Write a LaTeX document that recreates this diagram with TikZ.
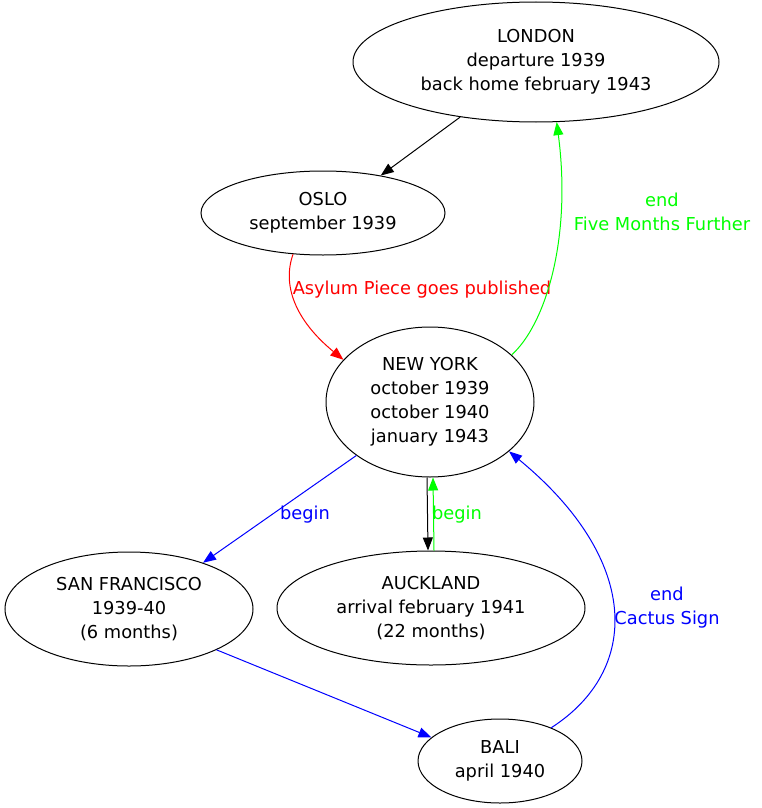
\documentclass[tikz,border=0pt]{standalone}
\usepackage{fontspec}
\setmainfont{DejaVu Sans}
\usetikzlibrary{shapes.geometric,arrows.meta}
\begin{document}
\begin{tikzpicture}[x=1pt,y=-1pt,>={Triangle[length=13pt,width=10pt]},
    city/.style={draw,ellipse,inner sep=0pt,align=center,line width=1pt},
    lbl/.style={align=center,inner sep=0pt},
    edge/.style={->,line width=1pt},
    every node/.style={font=\fontsize{17.8}{24}\selectfont}]
    \useasboundingbox (0,0) rectangle (761,808);
    % places
    \node[city,minimum width=366,minimum height=120] (london) at (536,62) {LONDON\\departure 1939\\back home february 1943};
    \node[city,minimum width=244,minimum height=84] (oslo) at (323,213) {OSLO\\september 1939};
    \node[city,minimum width=208,minimum height=150] (ny) at (430,402) {NEW YORK\\october 1939\\october 1940\\january 1943};
    \node[city,minimum width=248,minimum height=114] (sf) at (129,609) {SAN FRANCISCO\\1939-40\\(6 months)};
    \node[city,minimum width=308,minimum height=114] (auck) at (431,608) {AUCKLAND\\arrival february 1941\\(22 months)};
    \node[city,minimum width=164,minimum height=84] (bali) at (500,761) {BALI\\april 1940};
    % labels
    \node[lbl,text=red] (lasylum) at (422,290) {Asylum Piece goes published};
    \node[lbl,text=green] (lfive) at (662,212) {end\\Five Months Further};
    \node[lbl,text=blue] (lbegina) at (305,515) {begin};
    \node[lbl,text=green] (lbeginb) at (457,515) {begin};
    \node[lbl,text=blue] (lcactus) at (667,608) {end\\Cactus Sign};
    % trips
    \draw[edge] (london.216) -- (oslo.33);
    \draw[edge,red] (oslo.234) .. controls (282,285) and (295,320) .. (ny.154);
    \draw[edge,green] (ny.30) .. controls (545,325) and (572,240) .. (london.289);
    \draw[edge,blue] (ny.216) -- (sf.32);
    \draw[edge] ([xshift=-3pt]ny.south) -- ([xshift=-3pt]auck.north);
    \draw[edge,green] ([xshift=3pt]auck.north) -- ([xshift=3pt]ny.south);
    \draw[edge,blue] (sf.335) -- (bali.161);
    \draw[edge,blue] (bali.33) .. controls (641,670) and (641,560) .. (ny.328);
\end{tikzpicture}
\end{document}
